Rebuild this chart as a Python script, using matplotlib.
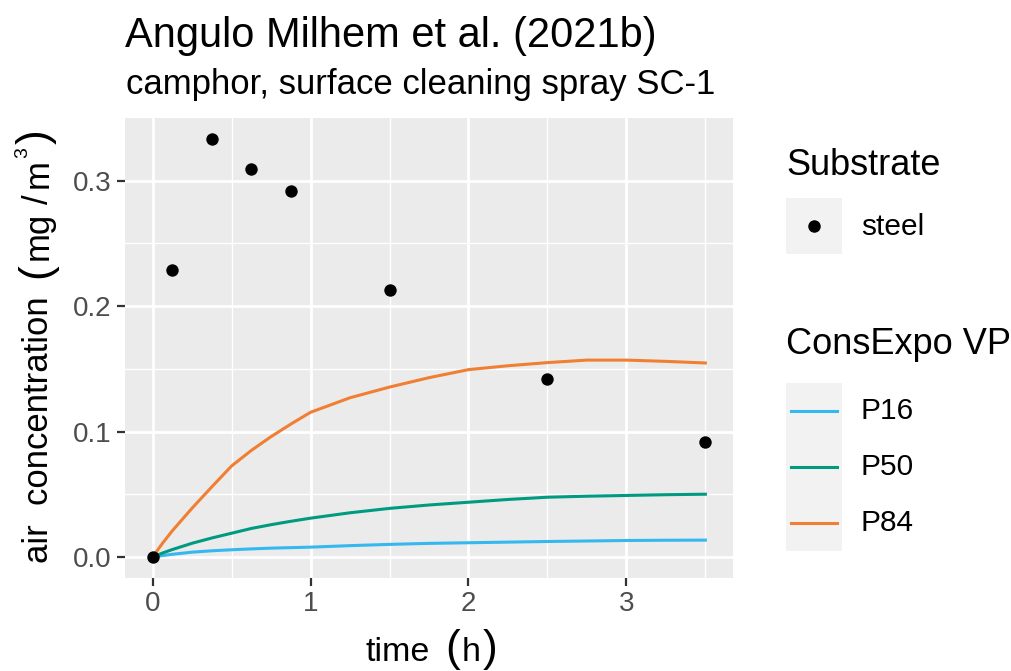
import matplotlib
matplotlib.use("Agg")
import matplotlib.pyplot as plt
from matplotlib.patches import Rectangle
from matplotlib.lines import Line2D

plt.rcParams["font.family"] = ["Liberation Sans", "DejaVu Sans"]

# measured data (steel)
obs_time = [0, 0.125, 0.375, 0.625, 0.875, 1.5, 2.5, 3.5]
obs_conc = [0, 0.229, 0.333, 0.309, 0.292, 0.213, 0.142, 0.092]

# ConsExpo model curves
model_time = [0, 0.0625, 0.125, 0.25, 0.375, 0.5, 0.625, 0.75, 0.875, 1.0, 1.25, 1.5, 1.75,
              2.0, 2.25, 2.5, 2.75, 3.0, 3.25, 3.5]
p16 = [0, 0.0012, 0.0022, 0.0039, 0.0050, 0.0058, 0.0065, 0.0071, 0.0075, 0.0079, 0.0091, 0.0101,
       0.0109, 0.0114, 0.0119, 0.0124, 0.0128, 0.0132, 0.0134, 0.0135]
p50 = [0, 0.0032, 0.0060, 0.0110, 0.0152, 0.0190, 0.0228, 0.0258, 0.0285, 0.0310, 0.0353, 0.0388,
       0.0415, 0.0437, 0.0459, 0.0477, 0.0485, 0.0491, 0.0497, 0.0501]
p84 = [0, 0.0110, 0.0210, 0.0390, 0.0560, 0.0726, 0.0850, 0.0960, 0.1060, 0.1154, 0.1270, 0.1355,
       0.1430, 0.1494, 0.1525, 0.1550, 0.1570, 0.1570, 0.1560, 0.1547]

series_names = ["P16", "P50", "P84"]
series_colors = ["#35B8EE", "#009A81", "#F07F33"]

W, H = 1012, 671
fig = plt.figure(figsize=(W / 100, H / 100), dpi=100)
ax = fig.add_axes([125 / W, 1 - 578 / H, (733 - 125) / W, (578 - 118) / H])
ax.set_facecolor("#EBEBEB")

for name, vals, col in zip(series_names, [p16, p50, p84], series_colors):
    ax.plot(model_time, vals, color=col, lw=2.2)
ax.scatter(obs_time, obs_conc, color="black", s=80, zorder=5, linewidths=0)

ax.set_xlim(-0.175, 3.675)
ax.set_ylim(-0.0167, 0.35)
ax.set_xticks([0, 1, 2, 3])
ax.set_yticks([0.0, 0.1, 0.2, 0.3])
ax.set_yticklabels(["0.0", "0.1", "0.2", "0.3"])
ax.set_xticks([0.5, 1.5, 2.5, 3.5], minor=True)
ax.set_yticks([0.05, 0.15, 0.25], minor=True)
ax.grid(True, which="major", color="white", lw=2.0)
ax.grid(True, which="minor", color="white", lw=1.0)
ax.set_axisbelow(True)
for s in ax.spines.values():
    s.set_visible(False)
ax.tick_params(which="major", colors="#333333", labelcolor="#4D4D4D", labelsize=20,
               length=5.5, width=1.6, pad=4)
ax.tick_params(which="minor", length=0)


def fx(px):
    return px / W


def fy(py):
    return 1 - py / H


# axis titles built from pieces so the brackets come out taller (like plotmath)
r = fig.canvas.get_renderer()
x = 365
for txt, fs, gap in [("time", 24.5, 0), ("(", 32, 16), ("h", 24.5, 2), (")", 32, 2)]:
    x += gap
    t = fig.text(fx(x), fy(661), txt, fontsize=fs, ha="left", va="baseline")
    x = t.get_window_extent(r).x1

y = H - 563
for txt, fs, gap, lift in [("air  concentration", 25, 0, 0), ("(", 32, 18, 0),
                           ("mg", 25, 4, 0), ("/", 25, 7, 0), ("m", 25, 7, 0),
                           ("3", 14, 1, 21), (")", 32, 3, 0)]:
    y += gap
    t = fig.text(fx(48 - lift), y / H, txt, fontsize=fs, rotation=90, rotation_mode="anchor",
                 ha="left", va="baseline")
    y = t.get_window_extent(r).y1

fig.text(fx(125), fy(47), "Angulo Milhem et al. (2021b)", fontsize=30, va="baseline")
fig.text(fx(126), fy(94), "camphor, surface cleaning spray SC-1", fontsize=25, va="baseline")

# legends
fig.text(fx(786), fy(165), "Substrate", fontsize=26, va="center")
fig.patches.append(Rectangle((fx(786), fy(254)), fx(56), 56 / H, transform=fig.transFigure,
                             facecolor="#F2F2F2", edgecolor="none"))
fig.lines.append(Line2D([fx(814)], [fy(226)], transform=fig.transFigure, marker="o",
                        color="black", markersize=9, markeredgewidth=0, linestyle="none"))
fig.text(fx(861), fy(227), "steel", fontsize=21.5, va="center")

fig.text(fx(786), fy(345), "ConsExpo VP", fontsize=26, va="center")
for i, (name, col) in enumerate(zip(series_names, series_colors)):
    yc = 410.7 + i * 56
    fig.patches.append(Rectangle((fx(786), fy(yc + 28)), fx(56), 56 / H, transform=fig.transFigure,
                                 facecolor="#F2F2F2", edgecolor="none"))
    fig.lines.append(Line2D([fx(791), fx(837)], [fy(yc), fy(yc)], transform=fig.transFigure,
                            color=col, lw=2.2))
    fig.text(fx(861), fy(yc), name, fontsize=21.5, va="center")

fig.savefig("out.png", dpi=100)
